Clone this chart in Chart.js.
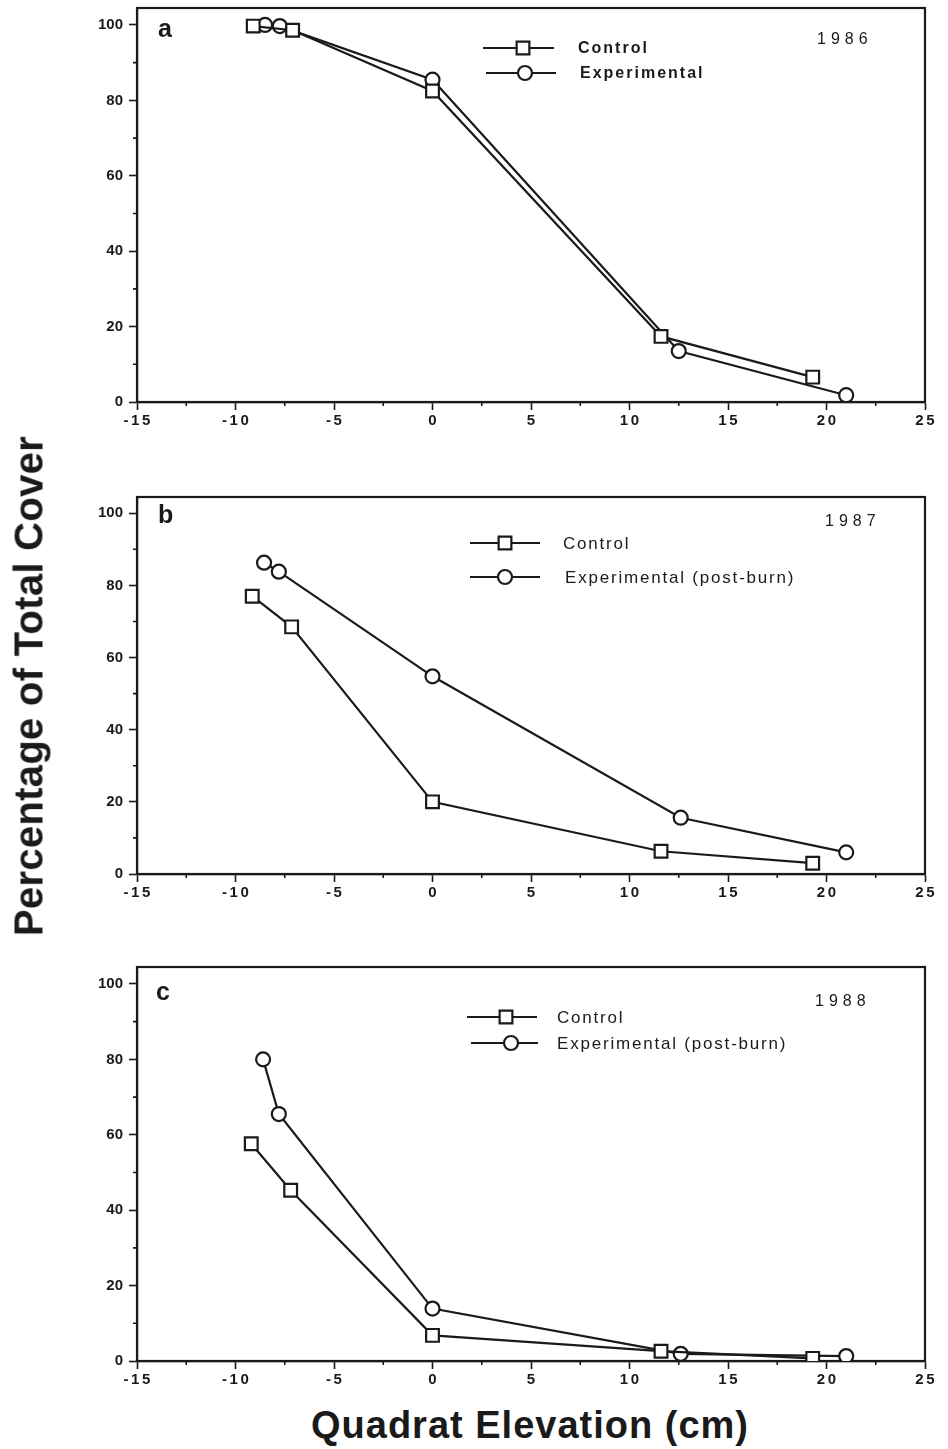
<!DOCTYPE html>
<html>
<head>
<meta charset="utf-8">
<script src="https://cdn.jsdelivr.net/npm/chart.js@4.4.0/dist/chart.umd.min.js"></script>
<style>
  body { margin: 0; background: #fff; width: 948px; height: 1449px; position: relative; overflow: hidden;
         font-family: "Liberation Sans", Arial, sans-serif; color: #1a1a1a; }
  canvas { position: absolute; left: 0; }
  #ytitle { position: absolute; left: 29px; top: 686px; transform: translate(-50%, -50%) rotate(-90deg);
            font-weight: bold; font-size: 40px; letter-spacing: 0.3px; white-space: nowrap; }
  #xtitle { position: absolute; left: 530px; top: 1425px; transform: translate(-50%, -50%);
            font-weight: bold; font-size: 38px; letter-spacing: 1px; white-space: nowrap; }
</style>
</head>
<body>
<canvas id="chartA" width="948" height="447" style="top:-7px"></canvas>
<canvas id="chartB" width="948" height="430" style="top:482px"></canvas>
<canvas id="chartC" width="948" height="447" style="top:952px"></canvas>
<div id="ytitle">Percentage of Total Cover</div>
<div id="xtitle">Quadrat Elevation (cm)</div>
<script>
// tick values
var xTicks = [-15, -10, -5, 0, 5, 10, 15, 20, 25];
var xMinor = [-12.5, -7.5, -2.5, 2.5, 7.5, 12.5, 17.5, 22.5];
var yTicks = [0, 20, 40, 60, 80, 100];
var yMinor = [10, 30, 50, 70, 90];

// 1986
var ctrlX86 = [-9.1, -7.1, 0, 11.6, 19.3];
var ctrlY86 = [99.7, 98.6, 82.5, 17.4, 6.6];
var expX86 = [-8.5, -7.75, 0, 12.5, 21.0];
var expY86 = [100, 99.7, 85.5, 13.5, 1.8];

// 1987
var ctrlX87 = [-9.15, -7.15, 0, 11.6, 19.3];
var ctrlY87 = [77, 68.5, 20, 6.3, 3.0];
var expX87 = [-8.55, -7.8, 0, 12.6, 21.0];
var expY87 = [86.3, 83.8, 54.8, 15.6, 6.0];

// 1988
var ctrlX88 = [-9.2, -7.2, 0, 11.6, 19.3];
var ctrlY88 = [57.6, 45.3, 6.8, 2.6, 0.7];
var expX88 = [-8.6, -7.8, 0, 12.6, 21.0];
var expY88 = [80, 65.5, 13.9, 1.9, 1.3];

var ink = '#1a1a1a';

function pts(xs, ys) {
    var out = [];
    for (let i = 0; i < xs.length; i++) {
        out.push({ x: xs[i], y: ys[i] });
    }
    return out;
}

function marker(ctx, style, r, x, y) {
    ctx.beginPath();
    if (style === 'rect') {
        var s = Math.SQRT1_2 * r;
        ctx.rect(x - s, y - s, 2 * s, 2 * s);
    } else {
        ctx.arc(x, y, r, 0, Math.PI * 2);
    }
    ctx.fillStyle = '#fff';
    ctx.fill();
    ctx.lineWidth = 2.2;
    ctx.strokeStyle = ink;
    ctx.stroke();
}

var panelDecor = {
    id: 'panelDecor',
    beforeDraw(chart) {
        // spaced digits on the x axis like the original
        var xs = chart.scales.x;
        if (xs && !xs._spaced) {
            var orig = xs.drawLabels.bind(xs);
            xs.drawLabels = function (area) {
                var c = chart.ctx;
                c.save();
                c.letterSpacing = '2.5px';
                c.translate(1.2, 0);
                orig(area);
                c.restore();
            };
            xs._spaced = true;
        }
    },
    beforeDatasetsDraw(chart) {
        var ctx = chart.ctx, a = chart.chartArea, x = chart.scales.x, y = chart.scales.y;
        ctx.save();
        ctx.strokeStyle = ink;
        ctx.lineWidth = 2.2;
        ctx.strokeRect(a.left, a.top, a.right - a.left, a.bottom - a.top);
        ctx.lineWidth = 1.6;
        ctx.beginPath();
        yMinor.forEach(function (v) {
            var p = y.getPixelForValue(v);
            ctx.moveTo(a.left - 4, p);
            ctx.lineTo(a.left, p);
        });
        xMinor.forEach(function (v) {
            var p = x.getPixelForValue(v);
            ctx.moveTo(p, a.bottom);
            ctx.lineTo(p, a.bottom + 4);
        });
        ctx.stroke();
        ctx.restore();
    },
    afterDraw(chart, args, o) {
        var ctx = chart.ctx;
        ctx.save();
        ctx.translate(0, -o.top);
        ctx.fillStyle = ink;
        ctx.textBaseline = 'middle';
        ctx.textAlign = 'left';
        ctx.font = 'bold 25px "Liberation Sans"';
        ctx.fillText(o.letter, o.letterX, o.letterY);
        ctx.font = '16px "Liberation Sans"';
        ctx.letterSpacing = '5px';
        ctx.fillText(o.year, o.yearX, o.yearY);
        chart.data.datasets.forEach(function (ds, i) {
            var r = o.rows[i];
            ctx.strokeStyle = ink;
            ctx.lineWidth = 2.2;
            ctx.beginPath();
            ctx.moveTo(r.x0, r.y);
            ctx.lineTo(r.x1, r.y);
            ctx.stroke();
            marker(ctx, ds.pointStyle, ds.pointRadius, r.mx, r.y);
            ctx.fillStyle = ink;
            ctx.font = o.font;
            ctx.letterSpacing = o.spacing;
            ctx.fillText(ds.label, r.tx, r.y + 1);
        });
        ctx.restore();
    }
};

function makeChart(id, ctrl, exp, expLabel, decor) {
    var ctx = document.getElementById(id).getContext('2d');
    return new Chart(ctx, {
        type: 'scatter',
        plugins: [panelDecor],
        data: {
            datasets: [
                {
                    label: 'Control',
                    data: ctrl,
                    showLine: true,
                    borderColor: ink,
                    borderWidth: 2.2,
                    pointStyle: 'rect',
                    pointRadius: 9,
                    pointBorderWidth: 2.2,
                    pointBorderColor: ink,
                    pointBackgroundColor: '#fff'
                },
                {
                    label: expLabel,
                    data: exp,
                    showLine: true,
                    borderColor: ink,
                    borderWidth: 2.2,
                    pointStyle: 'circle',
                    pointRadius: 7,
                    pointBorderWidth: 2.2,
                    pointBorderColor: ink,
                    pointBackgroundColor: '#fff'
                }
            ]
        },
        options: {
            responsive: false,
            animation: false,
            events: [],
            layout: {
                padding: { left: 0, right: 23, top: 12, bottom: 0 }
            },
            scales: {
                x: {
                    type: 'linear',
                    min: -15,
                    max: 25,
                    afterBuildTicks: function (s) { s.ticks = xTicks.map(function (v) { return { value: v }; }); },
                    afterFit: function (s) { s.height = 38; },
                    ticks: {
                        color: ink,
                        padding: 2,
                        font: { family: 'Liberation Sans', size: 15, weight: 'bold' }
                    },
                    grid: { drawOnChartArea: false, tickLength: 8, tickColor: ink, tickWidth: 1.6 },
                    border: { color: ink, width: 2.2 }
                },
                y: {
                    min: 0,
                    max: 104.5,
                    afterBuildTicks: function (s) { s.ticks = yTicks.map(function (v) { return { value: v }; }); },
                    afterFit: function (s) { s.width = 137; },
                    ticks: {
                        color: ink,
                        padding: 6,
                        font: { family: 'Liberation Sans', size: 15, weight: 'bold' }
                    },
                    grid: { drawOnChartArea: false, tickLength: 8, tickColor: ink, tickWidth: 1.6 },
                    border: { color: ink, width: 2.2 }
                }
            },
            plugins: {
                legend: { display: false },
                tooltip: { enabled: false },
                panelDecor: decor
            }
        }
    });
}

makeChart('chartA', pts(ctrlX86, ctrlY86), pts(expX86, expY86), 'Experimental', {
    top: -7, letter: 'a', letterX: 158, letterY: 30, year: '1986', yearX: 817, yearY: 40,
    font: 'bold 16px "Liberation Sans"', spacing: '2px',
    rows: [{ x0: 483, x1: 554, mx: 523, tx: 578, y: 48 }, { x0: 486, x1: 556, mx: 525, tx: 580, y: 73 }]
});

makeChart('chartB', pts(ctrlX87, ctrlY87), pts(expX87, expY87), 'Experimental (post-burn)', {
    top: 482, letter: 'b', letterX: 158, letterY: 516, year: '1987', yearX: 825, yearY: 522,
    font: '17px "Liberation Sans"', spacing: '1.8px',
    rows: [{ x0: 470, x1: 540, mx: 505, tx: 563, y: 543 }, { x0: 470, x1: 540, mx: 505, tx: 565, y: 577 }]
});

makeChart('chartC', pts(ctrlX88, ctrlY88), pts(expX88, expY88), 'Experimental (post-burn)', {
    top: 952, letter: 'c', letterX: 156, letterY: 993, year: '1988', yearX: 815, yearY: 1002,
    font: '17px "Liberation Sans"', spacing: '1.8px',
    rows: [{ x0: 467, x1: 537, mx: 506, tx: 557, y: 1017 }, { x0: 471, x1: 538, mx: 511, tx: 557, y: 1043 }]
});
</script>
</body>
</html>
